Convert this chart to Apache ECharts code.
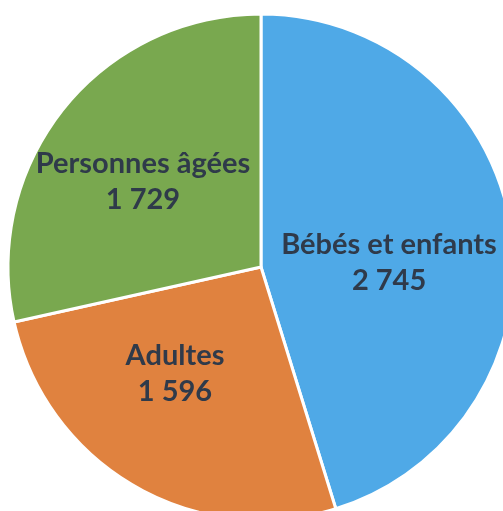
<!DOCTYPE html>
<html>
<head>
<meta charset="utf-8">
<script src="https://cdn.jsdelivr.net/npm/echarts@6/dist/echarts.min.js"></script>
<style>
html,body{margin:0;padding:0;background:#fff;}
#c{width:503px;height:511px;}
</style>
</head>
<body>
<div id="c"></div>
<script>
const categories = ['Bébés et enfants', 'Adultes', 'Personnes âgées'];
const values = [2745, 1596, 1729];
const colors = ['#4FA9E7', '#E0823F', '#79A84F'];
const labelOffsets = [[0, 15], [-21, -5], [-17, -4]];

function fmt(v) {
  return String(v).replace(/\B(?=(\d{3})+(?!\d))/g, ' ');
}

const chart = echarts.init(document.getElementById('c'));
chart.setOption({
  animation: false,
  backgroundColor: '#ffffff',
  series: [{
    type: 'pie',
    center: [261, 267],
    radius: 253,
    startAngle: 90,
    clockwise: true,
    itemStyle: { borderColor: '#ffffff', borderWidth: 3 },
    label: {
      show: true,
      position: 'inside',
      formatter: p => p.name + '\n' + fmt(p.value),
      fontFamily: 'Lato',
      fontWeight: 'bold',
      fontSize: 29,
      lineHeight: 36,
      color: '#2F3A4A',
      align: 'center'
    },
    labelLine: { show: false },
    emphasis: { disabled: true },
    data: categories.map((c, i) => ({
      name: c,
      value: values[i],
      itemStyle: { color: colors[i] },
      label: { offset: labelOffsets[i] }
    }))
  }]
});
</script>
</body>
</html>
